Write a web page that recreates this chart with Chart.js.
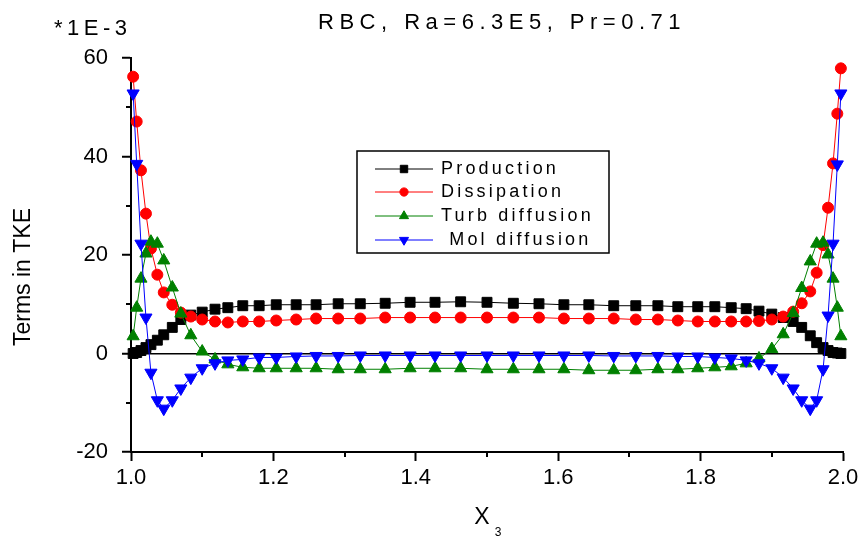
<!DOCTYPE html>
<html>
<head>
<meta charset="utf-8">
<title>Terms in TKE</title>
<script src="https://cdn.jsdelivr.net/npm/chart.js"></script>
<style>
  html, body { margin: 0; padding: 0; background: #fff; }
  #wrap { width: 864px; height: 537px; position: relative; }
</style>
</head>
<body>
<div id="wrap"><canvas id="tke"></canvas></div>
<script>
// wall-normal grid, clustered towards both plates
const x3 = [
  1.003, 1.008, 1.014, 1.021, 1.028, 1.037, 1.046, 1.058, 1.070, 1.084,
  1.100, 1.118, 1.136, 1.157, 1.180, 1.204, 1.232, 1.260, 1.291, 1.322,
  1.357, 1.392, 1.427, 1.463, 1.500, 1.537, 1.573, 1.608, 1.643, 1.678,
  1.709, 1.740, 1.768, 1.796, 1.820, 1.843, 1.864, 1.882, 1.900, 1.916,
  1.930, 1.942, 1.954, 1.963, 1.972, 1.979, 1.986, 1.992, 1.997
];

// TKE budget terms (units of 1E-3)
const production = [
  0.0, 0.2, 0.6, 1.2, 1.8, 2.7, 3.8, 5.3, 6.9, 7.8,
  8.4, 9.0, 9.3, 9.7, 9.7, 9.9, 9.9, 9.9, 10.1, 10.1,
  10.2, 10.4, 10.4, 10.5, 10.4, 10.2, 10.1, 9.9, 9.9, 9.7,
  9.7, 9.7, 9.5, 9.5, 9.5, 9.3, 9.1, 8.6, 8.0, 7.3,
  6.5, 5.3, 3.6, 2.2, 1.2, 0.6, 0.2, 0.1, 0.0
];
const dissipation = [
  56.2, 47.1, 37.2, 28.4, 21.3, 16.0, 12.4, 9.9, 8.3, 7.5,
  6.9, 6.5, 6.3, 6.5, 6.5, 6.7, 6.9, 7.1, 7.1, 7.1,
  7.3, 7.3, 7.3, 7.3, 7.3, 7.3, 7.3, 7.1, 7.1, 7.1,
  6.9, 6.9, 6.7, 6.5, 6.5, 6.5, 6.5, 6.6, 6.9, 7.5,
  8.5, 10.2, 12.6, 16.4, 22.0, 29.6, 38.6, 48.7, 57.9
];
const turbDiffusion = [
  3.5, 9.3, 15.2, 20.3, 22.7, 22.3, 18.9, 13.4, 8.1, 3.7,
  0.4, -1.2, -2.2, -2.8, -3.0, -3.0, -3.0, -3.0, -3.2, -3.2,
  -3.2, -3.0, -3.0, -3.0, -3.2, -3.2, -3.2, -3.2, -3.4, -3.4,
  -3.4, -3.2, -3.2, -3.0, -2.8, -2.6, -2.0, -1.0, 0.9, 3.9,
  8.2, 13.3, 18.7, 22.3, 22.5, 20.1, 15.2, 9.3, 3.5
];
const molDiffusion = [
  52.8, 38.5, 22.3, 7.3, -3.9, -9.5, -11.2, -9.5, -7.1, -4.9,
  -3.0, -2.0, -1.4, -1.2, -0.8, -0.8, -0.6, -0.5, -0.5, -0.4,
  -0.4, -0.4, -0.4, -0.4, -0.4, -0.4, -0.4, -0.4, -0.4, -0.5,
  -0.5, -0.5, -0.6, -0.6, -0.8, -1.0, -1.4, -2.0, -3.0, -4.9,
  -7.1, -9.5, -11.2, -9.5, -3.2, 7.7, 22.3, 38.4, 52.8
];

const seriesNames = ['Production', 'Dissipation', 'Turb diffusion', ' Mol diffusion'];
const titleText = 'RBC, Ra=6.3E5, Pr=0.71';
const yScaleNote = '*1E-3';
const yTitle = 'Terms in TKE';
const xTitle = 'X';
const xTitleSub = '3';

const FONT = '"Liberation Sans", Arial, sans-serif';

function series(label, values, color, style, radius, rotation, order) {
  return {
    label: label,
    order: order,
    data: values.map((v, i) => ({ x: x3[i], y: v })),
    borderColor: color,
    backgroundColor: color,
    borderWidth: 1,
    pointStyle: style,
    pointRadius: radius,
    pointRotation: rotation,
    pointBackgroundColor: color,
    pointBorderColor: color,
    pointBorderWidth: 1,
    tension: 0,
    clip: false
  };
}

const isMajorX = v => Math.round(v * 10) % 2 === 0;
const isMajorY = v => Math.round(v) % 20 === 0;

// text, legend box and the short minor ticks
const decorations = {
  id: 'decorations',
  beforeInit(chart) {
    chart.ctx.letterSpacing = '5px';
  },
  afterDraw(chart) {
    const ctx = chart.ctx;
    const xs = chart.scales.x, ys = chart.scales.y;

    ctx.save();
    ctx.strokeStyle = '#000';
    ctx.lineWidth = 2;
    xs.ticks.forEach(t => {
      if (t.label !== '') return;
      const px = Math.round(xs.getPixelForValue(t.value));
      ctx.beginPath();
      ctx.moveTo(px, xs.top);
      ctx.lineTo(px, xs.top + 5);
      ctx.stroke();
    });
    ys.ticks.forEach(t => {
      if (t.label !== '') return;
      const py = Math.round(ys.getPixelForValue(t.value));
      ctx.beginPath();
      ctx.moveTo(ys.right, py);
      ctx.lineTo(ys.right - 5, py);
      ctx.stroke();
    });
    ctx.restore();

    ctx.save();
    ctx.fillStyle = '#000';
    ctx.textBaseline = 'middle';

    ctx.font = '22px ' + FONT;
    ctx.letterSpacing = '5.5px';
    ctx.textAlign = 'left';
    ctx.fillText(titleText, 318, 23);

    ctx.font = '22px ' + FONT;
    ctx.letterSpacing = '4.5px';
    ctx.fillText(yScaleNote, 54, 29);

    ctx.letterSpacing = '0px';
    ctx.font = '23px ' + FONT;
    ctx.save();
    ctx.translate(24, 277);
    ctx.rotate(-Math.PI / 2);
    ctx.textAlign = 'center';
    ctx.fillText(yTitle, 0, 0);
    ctx.restore();

    ctx.textAlign = 'center';
    ctx.font = '23px ' + FONT;
    ctx.fillText(xTitle, 482, 518);
    ctx.font = '12px ' + FONT;
    ctx.fillText(xTitleSub, 498, 533);

    // legend
    const box = { left: 357, top: 151, right: 609, bottom: 253 };
    ctx.strokeStyle = '#000';
    ctx.lineWidth = 1.5;
    ctx.strokeRect(box.left, box.top, box.right - box.left, box.bottom - box.top);
    const rows = [169, 192, 216, 240];
    ctx.font = '18px ' + FONT;
    ctx.letterSpacing = '3.2px';
    ctx.textAlign = 'left';
    chart.data.datasets.forEach((ds, i) => {
      const y = rows[i];
      ctx.strokeStyle = ds.borderColor;
      ctx.lineWidth = 1;
      ctx.beginPath();
      ctx.moveTo(375, y);
      ctx.lineTo(433, y);
      ctx.stroke();
      ctx.fillStyle = ds.pointBackgroundColor;
      ctx.strokeStyle = ds.pointBorderColor;
      Chart.helpers.drawPoint(ctx, {
        pointStyle: ds.pointStyle,
        rotation: ds.pointRotation,
        radius: ds.pointRadius * 0.75,
        borderWidth: 1
      }, 404, y);
      ctx.fillStyle = '#000';
      ctx.fillText(ds.label, 441, y);
    });
    ctx.restore();
  }
};

const ctx = document.getElementById('tke').getContext('2d');

const chart = new Chart(ctx, {
  type: 'line',
  data: {
    datasets: [
      series(seriesNames[0], production, '#000000', 'rect', 7, 0, 3),
      series(seriesNames[1], dissipation, '#ff0000', 'circle', 5.5, 0, 2),
      series(seriesNames[2], turbDiffusion, '#008000', 'triangle', 7, 0, 1),
      series(seriesNames[3], molDiffusion, '#0000ff', 'triangle', 7, 180, 0)
    ]
  },
  options: {
    responsive: true,
    maintainAspectRatio: false,
    animation: false,
    layout: { padding: { top: 58, right: 21, left: 0, bottom: 0 } },
    plugins: {
      legend: { display: false },
      tooltip: { enabled: false },
      title: { display: false }
    },
    scales: {
      x: {
        type: 'linear',
        min: 1,
        max: 2,
        afterFit(scale) {
          scale.height = 85;
          scale.paddingLeft = 0;
          scale.paddingRight = 0;
        },
        ticks: {
          stepSize: 0.1,
          autoSkip: false,
          maxRotation: 0,
          padding: 4,
          color: '#000',
          font: { family: FONT, size: 22 },
          callback: v => isMajorX(v) ? (Math.round(v * 10) / 10).toFixed(1) : ''
        },
        grid: {
          drawOnChartArea: false,
          tickLength: 9,
          tickWidth: 2,
          tickColor: c => isMajorX(c.tick.value) ? '#000' : 'transparent'
        },
        border: { display: true, color: '#000', width: 2 }
      },
      y: {
        type: 'linear',
        min: -20,
        max: 60,
        afterFit(scale) {
          scale.width = 131;
        },
        ticks: {
          stepSize: 10,
          padding: 14,
          color: '#000',
          font: { family: FONT, size: 22 },
          callback: v => isMajorY(v) ? String(v) : ''
        },
        grid: {
          drawOnChartArea: true,
          color: c => (c.tick && c.tick.value === 0) ? '#000' : 'transparent',
          lineWidth: 1.5,
          tickLength: 9,
          tickWidth: 2,
          tickColor: c => isMajorY(c.tick.value) ? '#000' : 'transparent'
        },
        border: { display: true, color: '#000', width: 2 }
      }
    }
  },
  plugins: [decorations]
});
</script>
</body>
</html>
